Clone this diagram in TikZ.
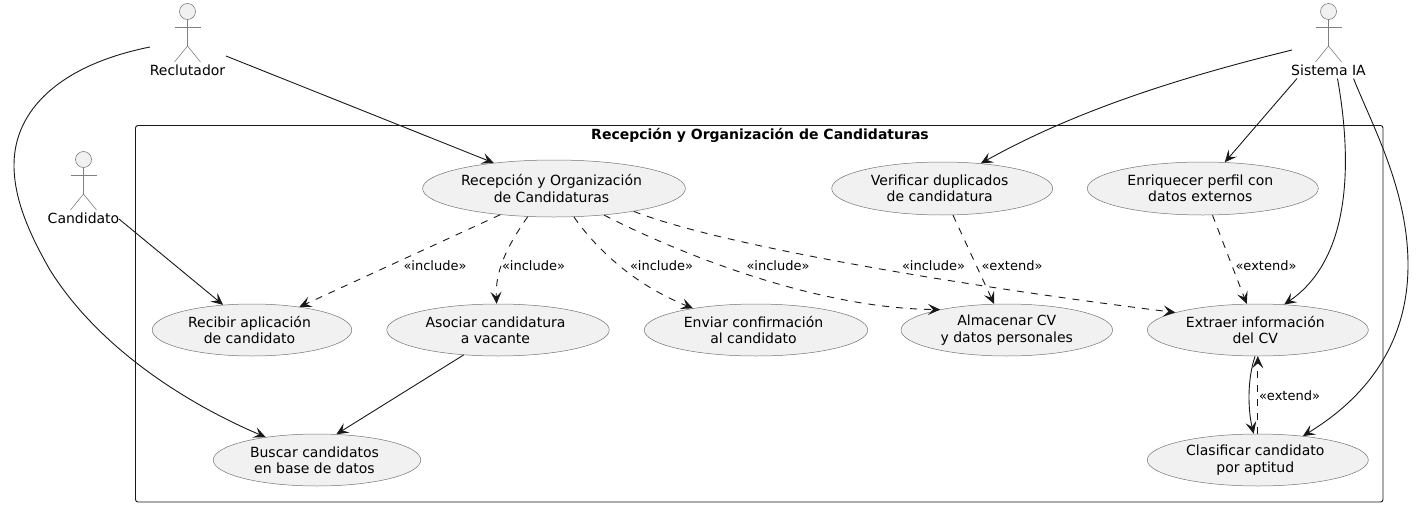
\documentclass[tikz,border=0pt]{standalone}
\usepackage{fontspec}
\setmainfont{DejaVu Sans}
\usetikzlibrary{arrows.meta,shapes.geometric}
\definecolor{usefill}{HTML}{F1F1F1}
\definecolor{useline}{HTML}{181818}
\newcommand{\casetext}[2]{#1\kern5pt\\#2\kern5pt}
\begin{document}
\begin{tikzpicture}[x=1pt,y=-1pt,
    usecase/.style={ellipse,draw=useline!60,line width=0.5pt,fill=usefill,inner sep=0pt,align=center,font=\fontsize{14}{16.4}\selectfont},
    actorline/.style={draw=useline!55,line width=0.6pt},
    assoc/.style={draw=useline,line width=0.9pt,-{Stealth[length=12pt,width=11pt,inset=5pt]}},
    dep/.style={assoc,dash pattern=on 7pt off 7pt},
    deplabel/.style={inner sep=0pt,font=\fontsize{13}{15}\selectfont},
    actorlabel/.style={inner sep=0pt,font=\fontsize{14}{16}\selectfont}]
    \useasboundingbox (0,0) rectangle (1424,506);

    % system frame
    \draw[useline,line width=0.9pt,rounded corners=2.5pt] (135.5,125.5) rectangle (1383,502);
    \node[inner sep=0pt,font=\fontsize{14}{16}\selectfont\bfseries] (titulo) at (760,135.5) {Recepción y Organización de Candidaturas};

    % actors
    \foreach \x/\y/\nm/\txt in {187.5/0/reclutador/Reclutador,83.5/148/candidato/Candidato,1328.5/0/sistema/Sistema IA}{
        \draw[actorline,fill=usefill] (\x,\y+11.5) circle(8);
        \draw[actorline] (\x,\y+19.5)--(\x,\y+46);
        \draw[actorline] (\x-13,\y+27)--(\x+13,\y+27);
        \draw[actorline] (\x-13,\y+62)--(\x,\y+46)--(\x+13,\y+62);
        \node[actorlabel] (\nm) at (\x,\y+70) {\txt};
    }
    \coordinate (reclutadorA) at (150,47);
    \coordinate (reclutadorB) at (226,56);
    \coordinate (candidatoA) at (119,219);
    \coordinate (sistemaA) at (1292,50);
    \coordinate (sistemaB) at (1297,78.5);
    \coordinate (sistemaC) at (1337.5,78.5);
    \coordinate (sistemaD) at (1353.5,78.5);

    % use cases
    \node[usecase,minimum width=260pt,minimum height=57pt] (recepcion) at (554,188.5) {\casetext{Recepción y Organización}{de Candidaturas}};
    \node[usecase,minimum width=221pt,minimum height=53pt] (verificar) at (942.2,188.5) {\casetext{Verificar duplicados}{de candidatura}};
    \node[usecase,minimum width=231pt,minimum height=53pt] (enriquecer) at (1202.8,188.5) {\casetext{Enriquecer perfil con}{datos externos}};
    \node[usecase,minimum width=199.5pt,minimum height=52pt] (recibir) at (252,330) {\casetext{Recibir aplicación}{de candidato}};
    \node[usecase,minimum width=222.5pt,minimum height=52pt] (asociar) at (498,330) {\casetext{Asociar candidatura}{a vacante}};
    \node[usecase,minimum width=223.5pt,minimum height=52pt] (enviar) at (756,330) {\casetext{Enviar confirmación}{al candidato}};
    \node[usecase,minimum width=211.5pt,minimum height=52pt] (almacenar) at (1006.8,330) {Almacenar CV\\y datos personales};
    \node[usecase,minimum width=221pt,minimum height=52pt] (extraer) at (1257.8,330) {\casetext{Extraer información}{del CV}};
    \node[usecase,minimum width=207.5pt,minimum height=52pt] (buscar) at (317,460) {\casetext{Buscar candidatos}{en base de datos}};
    \node[usecase,minimum width=221pt,minimum height=52pt] (clasificar) at (1257.8,460) {\casetext{Clasificar candidato}{por aptitud}};

    % associations
    \draw[assoc] (reclutadorB)--(recepcion.157);
    \draw[assoc] (reclutadorA) .. controls (60,65) and (14,110) .. (14,165) .. controls (14,200) and (30,235) .. (50,270) .. controls (100,350) and (190,405) .. (buscar.156);
    \draw[assoc] (candidatoA)--(recibir.139);
    \draw[assoc] (asociar.216)--(buscar.53);
    \draw[assoc] (sistemaA) .. controls (1190,75) and (1080,108) .. (verificar.33);
    \draw[assoc] (sistemaB)--(enriquecer.50);
    \draw[assoc] (sistemaC) .. controls (1352,160) and (1352,258) .. (extraer.44);
    \draw[assoc] (sistemaD) .. controls (1372,125) and (1408,190) .. (1408,265) .. controls (1408,340) and (1370,395) .. (clasificar.28);
    \draw[assoc] (extraer.264) .. controls (1247,380) and (1248,410) .. (clasificar.99);

    % include and extend
    \draw[dep] (recepcion.206)--(recibir.26);
    \draw[dep] (recepcion.227) .. controls (508,245) and (495,270) .. (asociar.93);
    \draw[dep] (recepcion.305) .. controls (597,250) and (635,285) .. (enviar.161);
    \draw[dep] (recepcion.332) .. controls (670,249) and (810,308) .. (almacenar.163);
    \draw[dep] (recepcion.344) .. controls (730,249) and (1000,291) .. (extraer.168);
    \draw[dep] (verificar.292)--(almacenar.116);
    \draw[dep] (enriquecer.290)--(extraer.113);
    \draw[dep] (clasificar.90)--(extraer.270);

    \node[deplabel] (incluyeA) at (435,265.5) {«include»};
    \node[deplabel] (incluyeB) at (533.5,265.5) {«include»};
    \node[deplabel] (incluyeC) at (661.5,265.5) {«include»};
    \node[deplabel] (incluyeD) at (778,265.5) {«include»};
    \node[deplabel] (incluyeE) at (933.5,265.5) {«include»};
    \node[deplabel] (extiendeA) at (1012,265.5) {«extend»};
    \node[deplabel] (extiendeB) at (1266,265.5) {«extend»};
    \node[deplabel] (extiendeC) at (1289.5,395.5) {«extend»};
\end{tikzpicture}
\end{document}
